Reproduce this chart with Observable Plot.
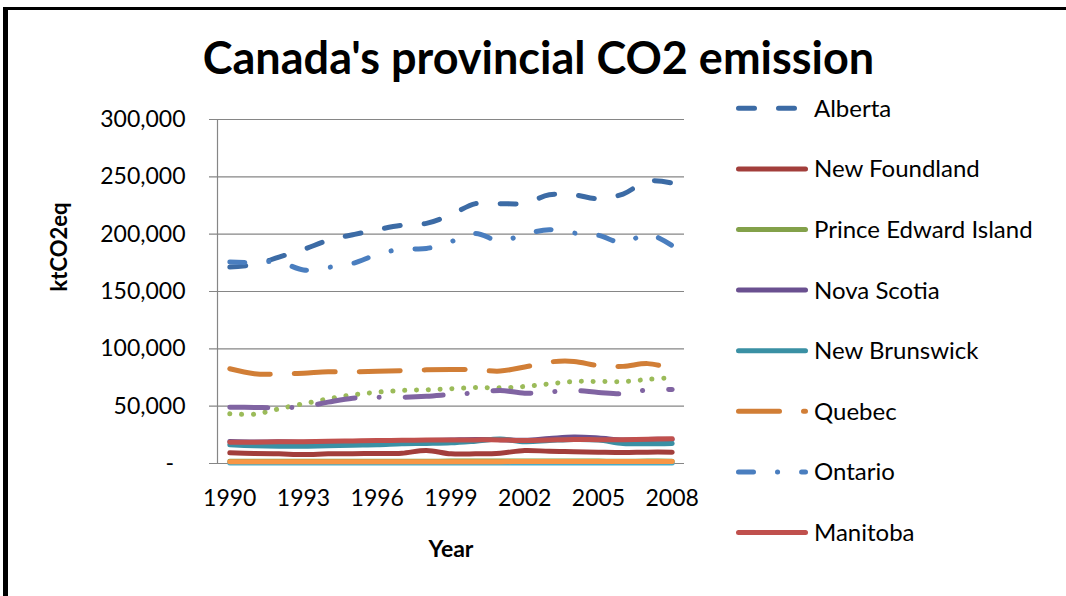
<!DOCTYPE html>
<html>
<head>
<meta charset="utf-8">
<script src="https://cdn.jsdelivr.net/npm/d3@7"></script>
<script src="https://cdn.jsdelivr.net/npm/@observablehq/plot@0.6"></script>
<style>
  html, body { margin: 0; padding: 0; background: #fff; overflow: hidden; }
  body { width: 1066px; height: 596px; position: relative; font-family: Lato, "Open Sans", sans-serif; }
  #frame { position: absolute; left: 3px; top: 7px; width: 1063px; height: 589px; border-left: 5px solid #000; border-top: 3px solid #000; box-sizing: border-box; }
  #title, #chart, #legend { position: absolute; left: 0; top: 0; }
</style>
</head>
<body>
<div id="frame"></div>
<svg id="title" width="1066" height="100">
  <text x="538.5" y="74" text-anchor="middle" font-family="Lato, sans-serif" font-weight="700" font-size="45" fill="#000">Canada's provincial CO2 emission</text>
</svg>
<div id="chart"></div>
<svg id="legend" width="1066" height="596"></svg>
<script>
// Reporting years (one point per year)
const years = [1990, 1991, 1992, 1993, 1994, 1995, 1996, 1997, 1998, 1999,
               2000, 2001, 2002, 2003, 2004, 2005, 2006, 2007, 2008];
const xTickYears = [1990, 1993, 1996, 1999, 2002, 2005, 2008];
const yTickValues = [0, 50000, 100000, 150000, 200000, 250000, 300000];

// Provincial emissions, kt CO2 eq
const alberta       = [171300, 173400, 180000, 186700, 194600, 199500, 204000, 207700, 209400, 217000,
                       226600, 226600, 227000, 234300, 234300, 230900, 235000, 246300, 244600];
const newFoundland  = [9300, 8700, 8400, 7800, 8400, 8600, 8700, 9000, 11400, 8400,
                       8400, 9000, 11400, 10600, 10300, 9900, 9600, 9900, 9900];
const princeEdward  = [2000, 1900, 1900, 2000, 2000, 2000, 2000, 2000, 2000, 2100,
                       2100, 2100, 2200, 2200, 2200, 2100, 2000, 2100, 2000];
const novaScotia    = [19200, 18800, 18900, 18600, 18800, 19000, 19300, 19600, 20000, 20500,
                       21000, 20800, 20300, 21800, 23200, 22300, 20500, 21000, 21000];
const newBrunswick  = [16300, 15500, 15100, 15100, 15500, 16000, 16300, 17200, 17500, 18000,
                       19500, 21300, 19000, 20000, 21000, 20500, 17500, 17200, 17500];
const quebec        = [82600, 78300, 78000, 78800, 80000, 80000, 80400, 80900, 81700, 82000,
                       81700, 80600, 84200, 88500, 89000, 85300, 84700, 87100, 83000];
const ontario       = [175700, 175300, 175800, 168800, 171000, 174500, 182300, 187000, 187500, 193500,
                       200500, 194000, 200000, 203900, 201000, 199000, 192400, 200000, 190000];
const manitoba      = [18600, 18600, 18900, 19000, 19300, 19700, 20100, 20200, 20400, 20500,
                       20600, 20600, 20100, 20500, 20900, 20800, 20800, 21200, 21500];
const saskatchewan  = [43400, 43000, 47700, 52100, 56400, 59900, 62200, 63700, 64300, 65200,
                       66300, 66000, 67200, 69500, 71500, 71500, 71500, 73300, 75000];
const britishColumbia = [49100, 48900, 48700, 49500, 53500, 57000, 57800, 57800, 58600, 60200,
                       61600, 63700, 61300, 62500, 63700, 62000, 60800, 64200, 64500];
const yukon         = [500, 500, 500, 500, 500, 500, 500, 500, 500, 500,
                       500, 500, 500, 500, 500, 500, 500, 500, 500];
const northwestTerr = [1600, 1600, 1600, 1600, 1600, 1600, 1600, 1600, 1600, 1600,
                       1600, 1600, 1700, 1700, 1700, 1700, 1700, 1700, 1700];

// Series in plotting order: name, values, colour, dash pattern, shown in legend
const series = [
  {name: "Alberta",              values: alberta,         color: "#3C6BA5", dash: "16 24",        legend: true},
  {name: "New Foundland",        values: newFoundland,    color: "#A23E3B", dash: null,           legend: true},
  {name: "Prince Edward Island", values: princeEdward,    color: "#83A14A", dash: null,           legend: true},
  {name: "Nova Scotia",          values: novaScotia,      color: "#6A5090", dash: null,           legend: true},
  {name: "New Brunswick",        values: newBrunswick,    color: "#3A90A4", dash: null,           legend: true},
  {name: "Quebec",               values: quebec,          color: "#D17E36", dash: "41 24",        legend: true},
  {name: "Ontario",              values: ontario,         color: "#4A7EBF", dash: "15 24 0.1 24", legend: true},
  {name: "Manitoba",             values: manitoba,        color: "#C0504D", dash: null,           legend: true},
  {name: "Saskatchewan",         values: saskatchewan,    color: "#9BBB59", dash: "0.1 11.7",     legend: false},
  {name: "British Columbia",     values: britishColumbia, color: "#8064A2", dash: "38 24 0.1 26", legend: false},
  {name: "Yukon",                values: yukon,           color: "#4BACC6", dash: null,           legend: false},
  {name: "Northwest Territories",values: northwestTerr,   color: "#F79646", dash: null,           legend: false}
];

const rows = s => years.map((year, i) => ({year, value: s.values[i]}));
const yFormat = d => d === 0 ? "-\u2002" : d3.format(",")(d);

const chart = Plot.plot({
  width: 700,
  height: 596,
  marginLeft: 217,
  marginRight: 16,
  marginTop: 119,
  marginBottom: 133,
  style: {fontFamily: "Lato, sans-serif", fontSize: "23px", color: "#000", background: "transparent", overflow: "visible"},
  x: {domain: [1989.5, 2008.5]},
  y: {domain: [0, 300000]},
  marks: [
    Plot.ruleY(yTickValues, {stroke: "#868686", strokeWidth: 1.2, insetLeft: -8}),
    Plot.ruleX([1989.5], {stroke: "#868686", strokeWidth: 1.2}),
    Plot.axisY({ticks: yTickValues, tickSize: 0, tickPadding: 32, tickFormat: yFormat, label: null}),
    Plot.axisX({ticks: xTickYears, tickSize: 0, tickPadding: 26, tickFormat: d => String(d), label: null}),
    ...series.map(s => Plot.lineY(rows(s), {
      x: "year", y: "value",
      stroke: s.color, strokeWidth: 5,
      strokeDasharray: s.dash ?? undefined,
      strokeLinecap: "round", strokeLinejoin: "round",
      curve: "catmull-rom"
    })),
    Plot.text(["ktCO2eq"], {frameAnchor: "left", dx: -158, rotate: -90, fontWeight: "bold", fontSize: 22}),
    Plot.text(["Year"], {frameAnchor: "bottom", dy: 93, fontWeight: "bold", fontSize: 23})
  ]
});
document.getElementById("chart").appendChild(chart);

// Legend: one swatch line and label per listed series
const legend = d3.select("#legend");
series.filter(s => s.legend).forEach((s, i) => {
  const y = 108.3 + i * 60.6;
  legend.append("line")
    .attr("x1", 738.5).attr("x2", 805.5).attr("y1", y).attr("y2", y)
    .attr("stroke", s.color).attr("stroke-width", 5)
    .attr("stroke-linecap", "round")
    .attr("stroke-dasharray", s.dash);
  legend.append("text")
    .attr("x", 814).attr("y", y + 8.4)
    .attr("font-family", "Lato, sans-serif").attr("font-size", 24).attr("fill", "#000")
    .text(s.name);
});
</script>
</body>
</html>
